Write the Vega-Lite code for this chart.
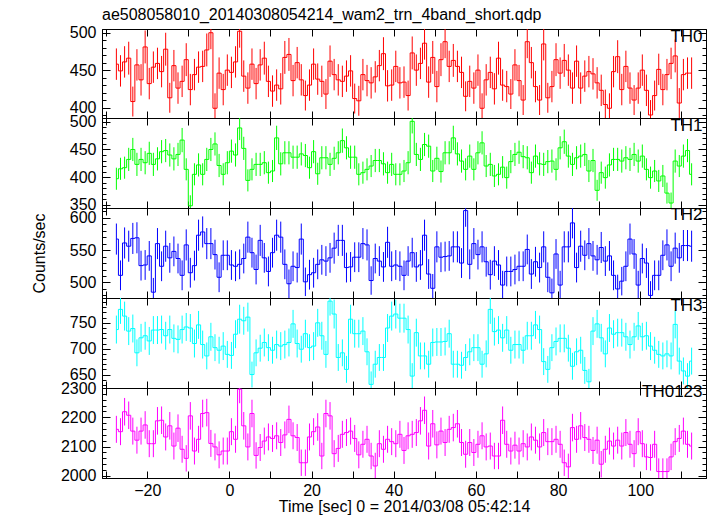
{
"$schema": "https://vega.github.io/schema/vega-lite/v6.json",
"padding": {"left": 30, "top": 7, "right": 5, "bottom": 5},
"title": {"text": "ae508058010_20140308054214_wam2_trn_4band_short.qdp", "anchor": "start", "frame": "group", "font": "Liberation Sans", "fontSize": 16, "fontWeight": "normal", "color": "black", "offset": 1},
"spacing": 0,
"bounds": "flush",
"config": {
 "view": {"stroke": "black", "strokeWidth": 1},
 "axis": {"labelFont": "Liberation Sans", "labelFontSize": 16, "labelColor": "black", "titleFont": "Liberation Sans", "titleFontSize": 16, "titleFontWeight": "normal", "titleColor": "black", "domainColor": "black", "tickColor": "black", "grid": false, "labelOverlap": false, "labelFlush": false, "tickWidth": 1, "domainWidth": 1, "format": "d", "minExtent": 0},
 "title": {"font": "Liberation Sans", "fontWeight": "normal", "color": "black"}
},
"datasets": {
"th0": [
{"t":-27.5,"r":458,"e":21},{"t":-26.5,"r":449,"e":21},{"t":-25.5,"r":461,"e":21},{"t":-24.5,"r":466,"e":22},{"t":-23.5,"r":408,"e":20},{"t":-22.5,"r":457,"e":21},{"t":-21.5,"r":437,"e":21},{"t":-20.5,"r":481,"e":22},{"t":-19.5,"r":432,"e":21},{"t":-18.5,"r":454,"e":21},
{"t":-17.5,"r":459,"e":21},{"t":-16.5,"r":448,"e":21},{"t":-15.5,"r":478,"e":22},{"t":-14.5,"r":413,"e":20},{"t":-13.5,"r":456,"e":21},{"t":-12.5,"r":426,"e":21},{"t":-11.5,"r":435,"e":21},{"t":-10.5,"r":464,"e":22},{"t":-9.5,"r":424,"e":21},{"t":-8.5,"r":444,"e":21},
{"t":-7.5,"r":454,"e":21},{"t":-6.5,"r":455,"e":21},{"t":-5.5,"r":477,"e":22},{"t":-4.5,"r":500,"e":22},{"t":-3.5,"r":399,"e":20},{"t":-2.5,"r":446,"e":21},{"t":-1.5,"r":424,"e":21},{"t":-0.5,"r":450,"e":21},{"t":0.5,"r":447,"e":21},{"t":1.5,"r":461,"e":21},
{"t":2.5,"r":502,"e":22},{"t":3.5,"r":442,"e":21},{"t":4.5,"r":426,"e":21},{"t":5.5,"r":458,"e":21},{"t":6.5,"r":432,"e":21},{"t":7.5,"r":457,"e":21},{"t":8.5,"r":466,"e":22},{"t":9.5,"r":435,"e":21},{"t":10.5,"r":422,"e":21},{"t":11.5,"r":430,"e":21},
{"t":12.5,"r":425,"e":21},{"t":13.5,"r":467,"e":22},{"t":14.5,"r":471,"e":22},{"t":15.5,"r":436,"e":21},{"t":16.5,"r":460,"e":21},{"t":17.5,"r":437,"e":21},{"t":18.5,"r":416,"e":20},{"t":19.5,"r":430,"e":21},{"t":20.5,"r":458,"e":21},{"t":21.5,"r":438,"e":21},
{"t":22.5,"r":435,"e":21},{"t":23.5,"r":418,"e":20},{"t":24.5,"r":462,"e":21},{"t":25.5,"r":444,"e":21},{"t":26.5,"r":437,"e":21},{"t":27.5,"r":435,"e":21},{"t":28.5,"r":442,"e":21},{"t":29.5,"r":449,"e":21},{"t":30.5,"r":412,"e":20},{"t":31.5,"r":409,"e":20},
{"t":32.5,"r":444,"e":21},{"t":33.5,"r":436,"e":21},{"t":34.5,"r":433,"e":21},{"t":35.5,"r":441,"e":21},{"t":36.5,"r":456,"e":21},{"t":37.5,"r":472,"e":22},{"t":38.5,"r":429,"e":21},{"t":39.5,"r":430,"e":21},{"t":40.5,"r":455,"e":21},{"t":41.5,"r":433,"e":21},
{"t":42.5,"r":434,"e":21},{"t":43.5,"r":416,"e":20},{"t":44.5,"r":473,"e":22},{"t":45.5,"r":450,"e":21},{"t":46.5,"r":459,"e":21},{"t":47.5,"r":486,"e":22},{"t":48.5,"r":434,"e":21},{"t":49.5,"r":467,"e":22},{"t":50.5,"r":428,"e":21},{"t":51.5,"r":464,"e":22},
{"t":52.5,"r":488,"e":22},{"t":53.5,"r":455,"e":21},{"t":54.5,"r":463,"e":22},{"t":55.5,"r":455,"e":21},{"t":56.5,"r":447,"e":21},{"t":57.5,"r":415,"e":20},{"t":58.5,"r":435,"e":21},{"t":59.5,"r":426,"e":21},{"t":60.5,"r":450,"e":21},{"t":61.5,"r":399,"e":20},
{"t":62.5,"r":437,"e":21},{"t":63.5,"r":447,"e":21},{"t":64.5,"r":425,"e":21},{"t":65.5,"r":466,"e":22},{"t":66.5,"r":430,"e":21},{"t":67.5,"r":428,"e":21},{"t":68.5,"r":418,"e":20},{"t":69.5,"r":457,"e":21},{"t":70.5,"r":436,"e":21},{"t":71.5,"r":410,"e":20},
{"t":72.5,"r":488,"e":22},{"t":73.5,"r":460,"e":21},{"t":74.5,"r":428,"e":21},{"t":75.5,"r":410,"e":20},{"t":76.5,"r":485,"e":22},{"t":77.5,"r":413,"e":20},{"t":78.5,"r":428,"e":21},{"t":79.5,"r":464,"e":22},{"t":80.5,"r":446,"e":21},{"t":81.5,"r":463,"e":22},
{"t":82.5,"r":450,"e":21},{"t":83.5,"r":426,"e":21},{"t":84.5,"r":462,"e":21},{"t":85.5,"r":426,"e":21},{"t":86.5,"r":442,"e":21},{"t":87.5,"r":448,"e":21},{"t":88.5,"r":445,"e":21},{"t":89.5,"r":433,"e":21},{"t":90.5,"r":423,"e":21},{"t":91.5,"r":404,"e":20},
{"t":92.5,"r":399,"e":20},{"t":93.5,"r":448,"e":21},{"t":94.5,"r":468,"e":22},{"t":95.5,"r":424,"e":21},{"t":96.5,"r":455,"e":21},{"t":97.5,"r":426,"e":21},{"t":98.5,"r":410,"e":20},{"t":99.5,"r":426,"e":21},{"t":100.5,"r":450,"e":21},{"t":101.5,"r":423,"e":21},
{"t":102.5,"r":390,"e":20},{"t":103.5,"r":416,"e":20},{"t":104.5,"r":451,"e":21},{"t":105.5,"r":424,"e":21},{"t":106.5,"r":444,"e":21},{"t":107.5,"r":459,"e":21},{"t":108.5,"r":469,"e":22},{"t":109.5,"r":406,"e":20},{"t":110.5,"r":444,"e":21},{"t":111.5,"r":446,"e":21},
{"t":112.5,"r":446,"e":21}
],
"th1": [
{"t":-27.5,"r":397,"e":20},{"t":-26.5,"r":415,"e":20},{"t":-25.5,"r":417,"e":20},{"t":-24.5,"r":432,"e":21},{"t":-23.5,"r":450,"e":21},{"t":-22.5,"r":423,"e":21},{"t":-21.5,"r":432,"e":21},{"t":-20.5,"r":426,"e":21},{"t":-19.5,"r":443,"e":21},{"t":-18.5,"r":423,"e":21},
{"t":-17.5,"r":433,"e":21},{"t":-16.5,"r":446,"e":21},{"t":-15.5,"r":448,"e":21},{"t":-14.5,"r":440,"e":21},{"t":-13.5,"r":433,"e":21},{"t":-12.5,"r":441,"e":21},{"t":-11.5,"r":467,"e":22},{"t":-10.5,"r":414,"e":20},{"t":-9.5,"r":348,"e":19},{"t":-8.5,"r":405,"e":20},
{"t":-7.5,"r":422,"e":21},{"t":-6.5,"r":405,"e":20},{"t":-5.5,"r":432,"e":21},{"t":-4.5,"r":450,"e":21},{"t":-3.5,"r":460,"e":21},{"t":-2.5,"r":421,"e":21},{"t":-1.5,"r":405,"e":20},{"t":-0.5,"r":426,"e":21},{"t":0.5,"r":447,"e":21},{"t":1.5,"r":440,"e":21},
{"t":2.5,"r":489,"e":22},{"t":3.5,"r":452,"e":21},{"t":4.5,"r":394,"e":20},{"t":5.5,"r":414,"e":20},{"t":6.5,"r":423,"e":21},{"t":7.5,"r":423,"e":21},{"t":8.5,"r":426,"e":21},{"t":9.5,"r":408,"e":20},{"t":10.5,"r":411,"e":20},{"t":11.5,"r":471,"e":22},
{"t":12.5,"r":424,"e":21},{"t":13.5,"r":444,"e":21},{"t":14.5,"r":444,"e":21},{"t":15.5,"r":436,"e":21},{"t":16.5,"r":436,"e":21},{"t":17.5,"r":442,"e":21},{"t":18.5,"r":439,"e":21},{"t":19.5,"r":417,"e":20},{"t":20.5,"r":446,"e":21},{"t":21.5,"r":406,"e":20},
{"t":22.5,"r":435,"e":21},{"t":23.5,"r":435,"e":21},{"t":24.5,"r":423,"e":21},{"t":25.5,"r":434,"e":21},{"t":26.5,"r":444,"e":21},{"t":27.5,"r":466,"e":22},{"t":28.5,"r":453,"e":21},{"t":29.5,"r":436,"e":21},{"t":30.5,"r":436,"e":21},{"t":31.5,"r":405,"e":20},
{"t":32.5,"r":408,"e":20},{"t":33.5,"r":414,"e":20},{"t":34.5,"r":420,"e":20},{"t":35.5,"r":430,"e":21},{"t":36.5,"r":430,"e":21},{"t":37.5,"r":424,"e":21},{"t":38.5,"r":408,"e":20},{"t":39.5,"r":423,"e":21},{"t":40.5,"r":405,"e":20},{"t":41.5,"r":405,"e":20},
{"t":42.5,"r":411,"e":20},{"t":43.5,"r":426,"e":21},{"t":44.5,"r":501,"e":22},{"t":45.5,"r":441,"e":21},{"t":46.5,"r":432,"e":21},{"t":47.5,"r":459,"e":21},{"t":48.5,"r":456,"e":21},{"t":49.5,"r":411,"e":20},{"t":50.5,"r":434,"e":21},{"t":51.5,"r":410,"e":20},
{"t":52.5,"r":444,"e":21},{"t":53.5,"r":444,"e":21},{"t":54.5,"r":471,"e":22},{"t":55.5,"r":442,"e":21},{"t":56.5,"r":429,"e":21},{"t":57.5,"r":414,"e":20},{"t":58.5,"r":438,"e":21},{"t":59.5,"r":414,"e":20},{"t":60.5,"r":444,"e":21},{"t":61.5,"r":462,"e":21},
{"t":62.5,"r":420,"e":20},{"t":63.5,"r":423,"e":21},{"t":64.5,"r":402,"e":20},{"t":65.5,"r":405,"e":20},{"t":66.5,"r":418,"e":20},{"t":67.5,"r":399,"e":20},{"t":68.5,"r":428,"e":21},{"t":69.5,"r":441,"e":21},{"t":70.5,"r":445,"e":21},{"t":71.5,"r":437,"e":21},
{"t":72.5,"r":435,"e":21},{"t":73.5,"r":408,"e":20},{"t":74.5,"r":438,"e":21},{"t":75.5,"r":424,"e":21},{"t":76.5,"r":423,"e":21},{"t":77.5,"r":428,"e":21},{"t":78.5,"r":429,"e":21},{"t":79.5,"r":414,"e":20},{"t":80.5,"r":453,"e":21},{"t":81.5,"r":464,"e":22},
{"t":82.5,"r":438,"e":21},{"t":83.5,"r":423,"e":21},{"t":84.5,"r":435,"e":21},{"t":85.5,"r":438,"e":21},{"t":86.5,"r":441,"e":21},{"t":87.5,"r":411,"e":20},{"t":88.5,"r":430,"e":21},{"t":89.5,"r":376,"e":19},{"t":90.5,"r":408,"e":20},{"t":91.5,"r":399,"e":20},
{"t":92.5,"r":422,"e":21},{"t":93.5,"r":432,"e":21},{"t":94.5,"r":432,"e":21},{"t":95.5,"r":429,"e":21},{"t":96.5,"r":435,"e":21},{"t":97.5,"r":432,"e":21},{"t":98.5,"r":441,"e":21},{"t":99.5,"r":429,"e":21},{"t":100.5,"r":438,"e":21},{"t":101.5,"r":414,"e":20},
{"t":102.5,"r":399,"e":20},{"t":103.5,"r":411,"e":20},{"t":104.5,"r":393,"e":20},{"t":105.5,"r":402,"e":20},{"t":106.5,"r":371,"e":19},{"t":107.5,"r":353,"e":19},{"t":108.5,"r":429,"e":21},{"t":109.5,"r":420,"e":20},{"t":110.5,"r":438,"e":21},{"t":111.5,"r":448,"e":21},
{"t":112.5,"r":405,"e":20}
],
"th2": [
{"t":-27.5,"r":567,"e":24},{"t":-26.5,"r":511,"e":23},{"t":-25.5,"r":561,"e":24},{"t":-24.5,"r":556,"e":24},{"t":-23.5,"r":568,"e":24},{"t":-22.5,"r":569,"e":24},{"t":-21.5,"r":526,"e":23},{"t":-20.5,"r":527,"e":23},{"t":-19.5,"r":541,"e":23},{"t":-18.5,"r":485,"e":22},
{"t":-17.5,"r":560,"e":24},{"t":-16.5,"r":525,"e":23},{"t":-15.5,"r":556,"e":24},{"t":-14.5,"r":538,"e":23},{"t":-13.5,"r":548,"e":23},{"t":-12.5,"r":537,"e":23},{"t":-11.5,"r":511,"e":23},{"t":-10.5,"r":558,"e":24},{"t":-9.5,"r":515,"e":23},{"t":-8.5,"r":526,"e":23},
{"t":-7.5,"r":573,"e":24},{"t":-6.5,"r":578,"e":24},{"t":-5.5,"r":560,"e":24},{"t":-4.5,"r":560,"e":24},{"t":-3.5,"r":543,"e":23},{"t":-2.5,"r":508,"e":23},{"t":-1.5,"r":542,"e":23},{"t":-0.5,"r":542,"e":23},{"t":0.5,"r":527,"e":23},{"t":1.5,"r":525,"e":23},
{"t":2.5,"r":528,"e":23},{"t":3.5,"r":537,"e":23},{"t":4.5,"r":570,"e":24},{"t":5.5,"r":546,"e":23},{"t":6.5,"r":520,"e":23},{"t":7.5,"r":565,"e":24},{"t":8.5,"r":538,"e":23},{"t":9.5,"r":517,"e":23},{"t":10.5,"r":546,"e":23},{"t":11.5,"r":573,"e":24},
{"t":12.5,"r":570,"e":24},{"t":13.5,"r":528,"e":23},{"t":14.5,"r":498,"e":22},{"t":15.5,"r":525,"e":23},{"t":16.5,"r":523,"e":23},{"t":17.5,"r":567,"e":24},{"t":18.5,"r":501,"e":22},{"t":19.5,"r":512,"e":23},{"t":20.5,"r":515,"e":23},{"t":21.5,"r":528,"e":23},
{"t":22.5,"r":535,"e":23},{"t":23.5,"r":533,"e":23},{"t":24.5,"r":538,"e":23},{"t":25.5,"r":553,"e":24},{"t":26.5,"r":565,"e":24},{"t":27.5,"r":565,"e":24},{"t":28.5,"r":523,"e":23},{"t":29.5,"r":524,"e":23},{"t":30.5,"r":539,"e":23},{"t":31.5,"r":539,"e":23},
{"t":32.5,"r":560,"e":24},{"t":33.5,"r":558,"e":24},{"t":34.5,"r":503,"e":22},{"t":35.5,"r":537,"e":23},{"t":36.5,"r":533,"e":23},{"t":37.5,"r":524,"e":23},{"t":38.5,"r":562,"e":24},{"t":39.5,"r":525,"e":23},{"t":40.5,"r":527,"e":23},{"t":41.5,"r":525,"e":23},
{"t":42.5,"r":511,"e":23},{"t":43.5,"r":533,"e":23},{"t":44.5,"r":546,"e":23},{"t":45.5,"r":524,"e":23},{"t":46.5,"r":527,"e":23},{"t":47.5,"r":573,"e":24},{"t":48.5,"r":513,"e":23},{"t":49.5,"r":491,"e":22},{"t":50.5,"r":555,"e":24},{"t":51.5,"r":539,"e":23},
{"t":52.5,"r":540,"e":23},{"t":53.5,"r":541,"e":23},{"t":54.5,"r":555,"e":24},{"t":55.5,"r":555,"e":24},{"t":56.5,"r":530,"e":23},{"t":57.5,"r":611,"e":25},{"t":58.5,"r":528,"e":23},{"t":59.5,"r":560,"e":24},{"t":60.5,"r":543,"e":23},{"t":61.5,"r":555,"e":24},
{"t":62.5,"r":532,"e":23},{"t":63.5,"r":512,"e":23},{"t":64.5,"r":533,"e":23},{"t":65.5,"r":527,"e":23},{"t":66.5,"r":496,"e":22},{"t":67.5,"r":517,"e":23},{"t":68.5,"r":517,"e":23},{"t":69.5,"r":520,"e":23},{"t":70.5,"r":525,"e":23},{"t":71.5,"r":525,"e":23},
{"t":72.5,"r":551,"e":23},{"t":73.5,"r":513,"e":23},{"t":74.5,"r":532,"e":23},{"t":75.5,"r":523,"e":23},{"t":76.5,"r":555,"e":24},{"t":77.5,"r":508,"e":23},{"t":78.5,"r":484,"e":22},{"t":79.5,"r":544,"e":23},{"t":80.5,"r":496,"e":22},{"t":81.5,"r":555,"e":24},
{"t":82.5,"r":555,"e":24},{"t":83.5,"r":592,"e":24},{"t":84.5,"r":523,"e":23},{"t":85.5,"r":556,"e":24},{"t":86.5,"r":542,"e":23},{"t":87.5,"r":560,"e":24},{"t":88.5,"r":541,"e":23},{"t":89.5,"r":535,"e":23},{"t":90.5,"r":554,"e":24},{"t":91.5,"r":533,"e":23},
{"t":92.5,"r":541,"e":23},{"t":93.5,"r":511,"e":23},{"t":94.5,"r":490,"e":22},{"t":95.5,"r":502,"e":22},{"t":96.5,"r":525,"e":23},{"t":97.5,"r":567,"e":24},{"t":98.5,"r":544,"e":23},{"t":99.5,"r":496,"e":22},{"t":100.5,"r":537,"e":23},{"t":101.5,"r":530,"e":23},
{"t":102.5,"r":480,"e":22},{"t":103.5,"r":511,"e":23},{"t":104.5,"r":511,"e":23},{"t":105.5,"r":542,"e":23},{"t":106.5,"r":558,"e":24},{"t":107.5,"r":525,"e":23},{"t":108.5,"r":553,"e":24},{"t":109.5,"r":538,"e":23},{"t":110.5,"r":557,"e":24},{"t":111.5,"r":557,"e":24},
{"t":112.5,"r":556,"e":24}
],
"th3": [
{"t":-27.5,"r":737,"e":27},{"t":-26.5,"r":776,"e":28},{"t":-25.5,"r":763,"e":28},{"t":-24.5,"r":734,"e":27},{"t":-23.5,"r":739,"e":27},{"t":-22.5,"r":692,"e":26},{"t":-21.5,"r":721,"e":27},{"t":-20.5,"r":725,"e":27},{"t":-19.5,"r":715,"e":27},{"t":-18.5,"r":736,"e":27},
{"t":-17.5,"r":736,"e":27},{"t":-16.5,"r":737,"e":27},{"t":-15.5,"r":725,"e":27},{"t":-14.5,"r":737,"e":27},{"t":-13.5,"r":720,"e":27},{"t":-12.5,"r":718,"e":27},{"t":-11.5,"r":737,"e":27},{"t":-10.5,"r":742,"e":27},{"t":-9.5,"r":740,"e":27},{"t":-8.5,"r":710,"e":27},
{"t":-7.5,"r":746,"e":27},{"t":-6.5,"r":708,"e":27},{"t":-5.5,"r":686,"e":26},{"t":-4.5,"r":723,"e":27},{"t":-3.5,"r":702,"e":26},{"t":-2.5,"r":697,"e":26},{"t":-1.5,"r":705,"e":27},{"t":-0.5,"r":689,"e":26},{"t":0.5,"r":687,"e":26},{"t":1.5,"r":728,"e":27},
{"t":2.5,"r":757,"e":28},{"t":3.5,"r":754,"e":27},{"t":4.5,"r":761,"e":28},{"t":5.5,"r":650,"e":25},{"t":6.5,"r":692,"e":26},{"t":7.5,"r":701,"e":26},{"t":8.5,"r":712,"e":27},{"t":9.5,"r":702,"e":26},{"t":10.5,"r":697,"e":26},{"t":11.5,"r":708,"e":27},
{"t":12.5,"r":705,"e":27},{"t":13.5,"r":708,"e":27},{"t":14.5,"r":712,"e":27},{"t":15.5,"r":748,"e":27},{"t":16.5,"r":710,"e":27},{"t":17.5,"r":699,"e":26},{"t":18.5,"r":729,"e":27},{"t":19.5,"r":702,"e":26},{"t":20.5,"r":705,"e":27},{"t":21.5,"r":750,"e":27},
{"t":22.5,"r":725,"e":27},{"t":23.5,"r":689,"e":26},{"t":24.5,"r":792,"e":28},{"t":25.5,"r":767,"e":28},{"t":26.5,"r":683,"e":26},{"t":27.5,"r":692,"e":26},{"t":28.5,"r":660,"e":26},{"t":29.5,"r":757,"e":28},{"t":30.5,"r":729,"e":27},{"t":31.5,"r":729,"e":27},
{"t":32.5,"r":734,"e":27},{"t":33.5,"r":694,"e":26},{"t":34.5,"r":631,"e":25},{"t":35.5,"r":670,"e":26},{"t":36.5,"r":683,"e":26},{"t":37.5,"r":683,"e":26},{"t":38.5,"r":740,"e":27},{"t":39.5,"r":763,"e":28},{"t":40.5,"r":767,"e":28},{"t":41.5,"r":759,"e":28},
{"t":42.5,"r":759,"e":28},{"t":43.5,"r":737,"e":27},{"t":44.5,"r":647,"e":25},{"t":45.5,"r":731,"e":27},{"t":46.5,"r":686,"e":26},{"t":47.5,"r":686,"e":26},{"t":48.5,"r":670,"e":26},{"t":49.5,"r":712,"e":27},{"t":50.5,"r":713,"e":27},{"t":51.5,"r":713,"e":27},
{"t":52.5,"r":714,"e":27},{"t":53.5,"r":729,"e":27},{"t":54.5,"r":670,"e":26},{"t":55.5,"r":670,"e":26},{"t":56.5,"r":668,"e":26},{"t":57.5,"r":683,"e":26},{"t":58.5,"r":694,"e":26},{"t":59.5,"r":702,"e":26},{"t":60.5,"r":702,"e":26},{"t":61.5,"r":670,"e":26},
{"t":62.5,"r":690,"e":26},{"t":63.5,"r":776,"e":28},{"t":64.5,"r":733,"e":27},{"t":65.5,"r":736,"e":27},{"t":66.5,"r":721,"e":27},{"t":67.5,"r":736,"e":27},{"t":68.5,"r":697,"e":26},{"t":69.5,"r":708,"e":27},{"t":70.5,"r":708,"e":27},{"t":71.5,"r":697,"e":26},
{"t":72.5,"r":725,"e":27},{"t":73.5,"r":725,"e":27},{"t":74.5,"r":746,"e":27},{"t":75.5,"r":737,"e":27},{"t":76.5,"r":675,"e":26},{"t":77.5,"r":660,"e":26},{"t":78.5,"r":702,"e":26},{"t":79.5,"r":714,"e":27},{"t":80.5,"r":720,"e":27},{"t":81.5,"r":720,"e":27},
{"t":82.5,"r":701,"e":26},{"t":83.5,"r":666,"e":26},{"t":84.5,"r":694,"e":26},{"t":85.5,"r":697,"e":26},{"t":86.5,"r":658,"e":26},{"t":87.5,"r":636,"e":25},{"t":88.5,"r":734,"e":27},{"t":89.5,"r":748,"e":27},{"t":90.5,"r":721,"e":27},{"t":91.5,"r":690,"e":26},
{"t":92.5,"r":740,"e":27},{"t":93.5,"r":728,"e":27},{"t":94.5,"r":731,"e":27},{"t":95.5,"r":731,"e":27},{"t":96.5,"r":723,"e":27},{"t":97.5,"r":708,"e":27},{"t":98.5,"r":723,"e":27},{"t":99.5,"r":744,"e":27},{"t":100.5,"r":723,"e":27},{"t":101.5,"r":725,"e":27},
{"t":102.5,"r":705,"e":27},{"t":103.5,"r":697,"e":26},{"t":104.5,"r":689,"e":26},{"t":105.5,"r":686,"e":26},{"t":106.5,"r":690,"e":26},{"t":107.5,"r":686,"e":26},{"t":108.5,"r":747,"e":27},{"t":109.5,"r":676,"e":26},{"t":110.5,"r":657,"e":26},{"t":111.5,"r":647,"e":25},
{"t":112.5,"r":676,"e":26}
],
"th0123": [
{"t":-27.5,"r":2159,"e":46},{"t":-26.5,"r":2151,"e":46},{"t":-25.5,"r":2219,"e":47},{"t":-24.5,"r":2207,"e":47},{"t":-23.5,"r":2153,"e":46},{"t":-22.5,"r":2122,"e":46},{"t":-21.5,"r":2153,"e":46},{"t":-20.5,"r":2174,"e":47},{"t":-19.5,"r":2110,"e":46},{"t":-18.5,"r":2110,"e":46},
{"t":-17.5,"r":2188,"e":47},{"t":-16.5,"r":2190,"e":47},{"t":-15.5,"r":2133,"e":46},{"t":-14.5,"r":2171,"e":47},{"t":-13.5,"r":2102,"e":46},{"t":-12.5,"r":2163,"e":47},{"t":-11.5,"r":2091,"e":46},{"t":-10.5,"r":2060,"e":45},{"t":-9.5,"r":2205,"e":47},{"t":-8.5,"r":2085,"e":46},
{"t":-7.5,"r":2125,"e":46},{"t":-6.5,"r":2213,"e":47},{"t":-5.5,"r":2216,"e":47},{"t":-4.5,"r":2111,"e":46},{"t":-3.5,"r":2099,"e":46},{"t":-2.5,"r":2072,"e":46},{"t":-1.5,"r":2085,"e":46},{"t":-0.5,"r":2085,"e":46},{"t":0.5,"r":2151,"e":46},{"t":1.5,"r":2125,"e":46},
{"t":2.5,"r":2296,"e":48},{"t":3.5,"r":2171,"e":47},{"t":4.5,"r":2099,"e":46},{"t":5.5,"r":2213,"e":47},{"t":6.5,"r":2070,"e":45},{"t":7.5,"r":2097,"e":46},{"t":8.5,"r":2119,"e":46},{"t":9.5,"r":2133,"e":46},{"t":10.5,"r":2128,"e":46},{"t":11.5,"r":2137,"e":46},
{"t":12.5,"r":2114,"e":46},{"t":13.5,"r":2140,"e":46},{"t":14.5,"r":2193,"e":47},{"t":15.5,"r":2137,"e":46},{"t":16.5,"r":2131,"e":46},{"t":17.5,"r":2045,"e":45},{"t":18.5,"r":2045,"e":45},{"t":19.5,"r":2133,"e":46},{"t":20.5,"r":2151,"e":46},{"t":21.5,"r":2167,"e":47},
{"t":22.5,"r":2068,"e":45},{"t":23.5,"r":2213,"e":47},{"t":24.5,"r":2205,"e":47},{"t":25.5,"r":2076,"e":46},{"t":26.5,"r":2094,"e":46},{"t":27.5,"r":2142,"e":46},{"t":28.5,"r":2148,"e":46},{"t":29.5,"r":2153,"e":46},{"t":30.5,"r":2128,"e":46},{"t":31.5,"r":2072,"e":46},
{"t":32.5,"r":2108,"e":46},{"t":33.5,"r":2125,"e":46},{"t":34.5,"r":2068,"e":45},{"t":35.5,"r":2034,"e":45},{"t":36.5,"r":2110,"e":46},{"t":37.5,"r":2091,"e":46},{"t":38.5,"r":2125,"e":46},{"t":39.5,"r":2117,"e":46},{"t":40.5,"r":2110,"e":46},{"t":41.5,"r":2142,"e":46},
{"t":42.5,"r":2087,"e":46},{"t":43.5,"r":2137,"e":46},{"t":44.5,"r":2142,"e":46},{"t":45.5,"r":2148,"e":46},{"t":46.5,"r":2188,"e":47},{"t":47.5,"r":2224,"e":47},{"t":48.5,"r":2102,"e":46},{"t":49.5,"r":2178,"e":47},{"t":50.5,"r":2106,"e":46},{"t":51.5,"r":2153,"e":46},
{"t":52.5,"r":2114,"e":46},{"t":53.5,"r":2159,"e":46},{"t":54.5,"r":2165,"e":47},{"t":55.5,"r":2178,"e":47},{"t":56.5,"r":2114,"e":46},{"t":57.5,"r":2074,"e":46},{"t":58.5,"r":2114,"e":46},{"t":59.5,"r":2080,"e":46},{"t":60.5,"r":2108,"e":46},{"t":61.5,"r":2137,"e":46},
{"t":62.5,"r":2099,"e":46},{"t":63.5,"r":2102,"e":46},{"t":64.5,"r":2068,"e":45},{"t":65.5,"r":2068,"e":45},{"t":66.5,"r":2190,"e":47},{"t":67.5,"r":2108,"e":46},{"t":68.5,"r":2085,"e":46},{"t":69.5,"r":2105,"e":46},{"t":70.5,"r":2085,"e":46},{"t":71.5,"r":2110,"e":46},
{"t":72.5,"r":2099,"e":46},{"t":73.5,"r":2133,"e":46},{"t":74.5,"r":2122,"e":46},{"t":75.5,"r":2099,"e":46},{"t":76.5,"r":2148,"e":46},{"t":77.5,"r":2117,"e":46},{"t":78.5,"r":2117,"e":46},{"t":79.5,"r":2125,"e":46},{"t":80.5,"r":2108,"e":46},{"t":81.5,"r":2045,"e":45},
{"t":82.5,"r":2031,"e":45},{"t":83.5,"r":2165,"e":47},{"t":84.5,"r":2125,"e":46},{"t":85.5,"r":2171,"e":47},{"t":86.5,"r":2131,"e":46},{"t":87.5,"r":2125,"e":46},{"t":88.5,"r":2087,"e":46},{"t":89.5,"r":2122,"e":46},{"t":90.5,"r":2040,"e":45},{"t":91.5,"r":2091,"e":46},
{"t":92.5,"r":2119,"e":46},{"t":93.5,"r":2102,"e":46},{"t":94.5,"r":2122,"e":46},{"t":95.5,"r":2102,"e":46},{"t":96.5,"r":2148,"e":46},{"t":97.5,"r":2108,"e":46},{"t":98.5,"r":2076,"e":46},{"t":99.5,"r":2151,"e":46},{"t":100.5,"r":2110,"e":46},{"t":101.5,"r":2065,"e":45},
{"t":102.5,"r":2063,"e":45},{"t":103.5,"r":2108,"e":46},{"t":104.5,"r":2015,"e":45},{"t":105.5,"r":2015,"e":45},{"t":106.5,"r":2015,"e":45},{"t":107.5,"r":2065,"e":45},{"t":108.5,"r":2117,"e":46},{"t":109.5,"r":2128,"e":46},{"t":110.5,"r":2153,"e":46},{"t":111.5,"r":2108,"e":46},
{"t":112.5,"r":2102,"e":46}
]
},
"vconcat": [
{
 "width": 604, "height": 89,
 "title": {"text": "TH0", "anchor": "end", "offset": -21, "dx": -4, "fontSize": 17},
 "data": {"name": "th0"},
 "resolve": {"axis": {"x": "independent", "y": "independent"}},
 "layer": [
  {"mark": {"type": "line", "interpolate": "step", "color": "#ff0000", "strokeWidth": 1},
   "encoding": {
    "x": {"field": "t", "type": "quantitative", "scale": {"domain": [-31, 116], "nice": false, "zero": false}, "axis": {"orient": "bottom", "values": [-30,-20,-10,0,10,20,30,40,50,60,70,80,90,100,110], "tickSize": -7, "labels": false, "title": null}},
    "y": {"field": "r", "type": "quantitative", "scale": {"domain": [386, 505], "nice": false, "zero": false, "clamp": true}, "axis": {"orient": "left", "values": [390,400,410,420,430,440,450,460,470,480,490,500], "labelExpr": "datum.value % 50 === 0 ? datum.label : ''", "tickSize": {"condition": {"test": "datum.value % 50 === 0", "value": -8}, "value": -4}, "labelPadding": 14, "title": null}}
   }},
  {"mark": {"type": "errorbar", "color": "#ff0000", "thickness": 1},
   "encoding": {
    "x": {"field": "t", "type": "quantitative", "axis": {"orient": "top", "values": [-30,-20,-10,0,10,20,30,40,50,60,70,80,90,100,110], "tickSize": -7, "labels": false, "title": null}},
    "y": {"field": "r", "type": "quantitative", "axis": {"orient": "right", "values": [390,400,410,420,430,440,450,460,470,480,490,500], "tickSize": {"condition": {"test": "datum.value % 50 === 0", "value": -8}, "value": -4}, "labels": false, "title": null}},
    "yError": {"field": "e"}
   }}
 ]
},
{
 "width": 604, "height": 90,
 "title": {"text": "TH1", "anchor": "end", "offset": -21, "dx": -4, "fontSize": 17},
 "data": {"name": "th1"},
 "resolve": {"axis": {"x": "independent", "y": "independent"}},
 "layer": [
  {"mark": {"type": "line", "interpolate": "step", "color": "#00ff00", "strokeWidth": 1},
   "encoding": {
    "x": {"field": "t", "type": "quantitative", "scale": {"domain": [-31, 116], "nice": false, "zero": false}, "axis": {"orient": "bottom", "values": [-30,-20,-10,0,10,20,30,40,50,60,70,80,90,100,110], "tickSize": -7, "labels": false, "title": null}},
    "y": {"field": "r", "type": "quantitative", "scale": {"domain": [344, 507], "nice": false, "zero": false, "clamp": true}, "axis": {"orient": "left", "values": [350,360,370,380,390,400,410,420,430,440,450,460,470,480,490,500], "labelExpr": "datum.value % 50 === 0 ? datum.label : ''", "tickSize": {"condition": {"test": "datum.value % 50 === 0", "value": -8}, "value": -4}, "labelPadding": 14, "title": null}}
   }},
  {"mark": {"type": "errorbar", "color": "#00ff00", "thickness": 1},
   "encoding": {
    "x": {"field": "t", "type": "quantitative", "axis": {"orient": "top", "values": [-30,-20,-10,0,10,20,30,40,50,60,70,80,90,100,110], "tickSize": -7, "labels": false, "title": null}},
    "y": {"field": "r", "type": "quantitative", "axis": {"orient": "right", "values": [350,360,370,380,390,400,410,420,430,440,450,460,470,480,490,500], "tickSize": {"condition": {"test": "datum.value % 50 === 0", "value": -8}, "value": -4}, "labels": false, "title": null}},
    "yError": {"field": "e"}
   }}
 ]
},
{
 "width": 604, "height": 90,
 "title": {"text": "TH2", "anchor": "end", "offset": -21, "dx": -4, "fontSize": 17},
 "data": {"name": "th2"},
 "resolve": {"axis": {"x": "independent", "y": "independent"}},
 "layer": [
  {"mark": {"type": "line", "interpolate": "step", "color": "#0000ff", "strokeWidth": 1},
   "encoding": {
    "x": {"field": "t", "type": "quantitative", "scale": {"domain": [-31, 116], "nice": false, "zero": false}, "axis": {"orient": "bottom", "values": [-30,-20,-10,0,10,20,30,40,50,60,70,80,90,100,110], "tickSize": -7, "labels": false, "title": null}},
    "y": {"field": "r", "type": "quantitative", "scale": {"domain": [476, 615], "nice": false, "zero": false, "clamp": true}, "axis": {"orient": "left", "values": [480,490,500,510,520,530,540,550,560,570,580,590,600,610], "labelExpr": "datum.value % 50 === 0 ? datum.label : ''", "tickSize": {"condition": {"test": "datum.value % 50 === 0", "value": -8}, "value": -4}, "labelPadding": 14, "title": "Counts/sec", "titlePadding": 22}}
   }},
  {"mark": {"type": "errorbar", "color": "#0000ff", "thickness": 1},
   "encoding": {
    "x": {"field": "t", "type": "quantitative", "axis": {"orient": "top", "values": [-30,-20,-10,0,10,20,30,40,50,60,70,80,90,100,110], "tickSize": -7, "labels": false, "title": null}},
    "y": {"field": "r", "type": "quantitative", "axis": {"orient": "right", "values": [480,490,500,510,520,530,540,550,560,570,580,590,600,610], "tickSize": {"condition": {"test": "datum.value % 50 === 0", "value": -8}, "value": -4}, "labels": false, "title": null}},
    "yError": {"field": "e"}
   }}
 ]
},
{
 "width": 604, "height": 90,
 "title": {"text": "TH3", "anchor": "end", "offset": -21, "dx": -4, "fontSize": 17},
 "data": {"name": "th3"},
 "resolve": {"axis": {"x": "independent", "y": "independent"}},
 "layer": [
  {"mark": {"type": "line", "interpolate": "step", "color": "#00ffff", "strokeWidth": 1},
   "encoding": {
    "x": {"field": "t", "type": "quantitative", "scale": {"domain": [-31, 116], "nice": false, "zero": false}, "axis": {"orient": "bottom", "values": [-30,-20,-10,0,10,20,30,40,50,60,70,80,90,100,110], "tickSize": -7, "labels": false, "title": null}},
    "y": {"field": "r", "type": "quantitative", "scale": {"domain": [624, 798], "nice": false, "zero": false, "clamp": true}, "axis": {"orient": "left", "values": [630,640,650,660,670,680,690,700,710,720,730,740,750,760,770,780,790], "labelExpr": "datum.value % 50 === 0 ? datum.label : ''", "tickSize": {"condition": {"test": "datum.value % 50 === 0", "value": -8}, "value": -4}, "labelPadding": 14, "title": null}}
   }},
  {"mark": {"type": "errorbar", "color": "#00ffff", "thickness": 1},
   "encoding": {
    "x": {"field": "t", "type": "quantitative", "axis": {"orient": "top", "values": [-30,-20,-10,0,10,20,30,40,50,60,70,80,90,100,110], "tickSize": -7, "labels": false, "title": null}},
    "y": {"field": "r", "type": "quantitative", "axis": {"orient": "right", "values": [630,640,650,660,670,680,690,700,710,720,730,740,750,760,770,780,790], "tickSize": {"condition": {"test": "datum.value % 50 === 0", "value": -8}, "value": -4}, "labels": false, "title": null}},
    "yError": {"field": "e"}
   }}
 ]
},
{
 "width": 604, "height": 90,
 "title": {"text": "TH0123", "anchor": "end", "offset": -21, "dx": -4, "fontSize": 17},
 "data": {"name": "th0123"},
 "resolve": {"axis": {"x": "independent", "y": "independent"}},
 "layer": [
  {"mark": {"type": "line", "interpolate": "step", "color": "#ff00ff", "strokeWidth": 1},
   "encoding": {
    "x": {"field": "t", "type": "quantitative", "scale": {"domain": [-31, 116], "nice": false, "zero": false}, "axis": {"orient": "bottom", "values": [-30,-20,-10,0,10,20,30,40,50,60,70,80,90,100,110], "tickSize": -7, "labelExpr": "datum.value % 20 === 0 ? datum.label : ''", "labelPadding": 11, "title": "Time [sec] 0 = 2014/03/08 05:42:14", "titlePadding": 0}},
    "y": {"field": "r", "type": "quantitative", "scale": {"domain": [1993, 2300], "nice": false, "zero": false, "clamp": true}, "axis": {"orient": "left", "values": [2000,2020,2040,2060,2080,2100,2120,2140,2160,2180,2200,2220,2240,2260,2280,2300], "labelExpr": "datum.value % 100 === 0 ? datum.label : ''", "tickSize": {"condition": {"test": "datum.value % 100 === 0", "value": -8}, "value": -4}, "labelPadding": 14, "title": null}}
   }},
  {"mark": {"type": "errorbar", "color": "#ff00ff", "thickness": 1},
   "encoding": {
    "x": {"field": "t", "type": "quantitative", "axis": {"orient": "top", "values": [-30,-20,-10,0,10,20,30,40,50,60,70,80,90,100,110], "tickSize": -7, "labels": false, "title": null}},
    "y": {"field": "r", "type": "quantitative", "axis": {"orient": "right", "values": [2000,2020,2040,2060,2080,2100,2120,2140,2160,2180,2200,2220,2240,2260,2280,2300], "tickSize": {"condition": {"test": "datum.value % 100 === 0", "value": -8}, "value": -4}, "labels": false, "title": null}},
    "yError": {"field": "e"}
   }}
 ]
}
]
}
